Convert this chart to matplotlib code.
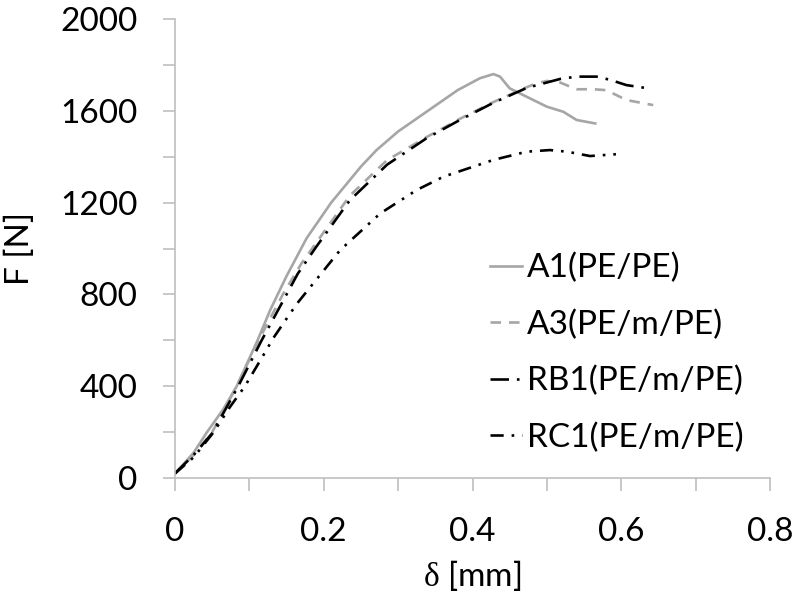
import numpy as np
import matplotlib
matplotlib.use('Agg')
import matplotlib.pyplot as plt

# curves (delta in mm, F in N)
a1_x = [0, 0.025, 0.043, 0.065, 0.083, 0.111, 0.128, 0.150, 0.177, 0.21, 0.25, 0.271,
        0.30, 0.34, 0.38, 0.41, 0.428, 0.437, 0.45, 0.473, 0.50, 0.522, 0.54, 0.565]
a1_f = [20, 110, 200, 300, 400, 600, 732, 880, 1045, 1200, 1357, 1429,
        1510, 1600, 1690, 1742, 1760, 1749, 1698, 1661, 1618, 1596, 1560, 1545]

a3_x = [0, 0.025, 0.05, 0.083, 0.114, 0.145, 0.17, 0.202, 0.235, 0.285, 0.338,
        0.383, 0.428, 0.473, 0.486, 0.5, 0.518, 0.54, 0.5625, 0.58, 0.607, 0.643]
a3_f = [20, 100, 200, 400, 610, 800, 935, 1080, 1230, 1385, 1485,
        1565, 1638, 1703, 1720, 1730, 1723, 1694, 1694, 1690, 1647, 1625]

rb1_x = [0, 0.025, 0.05, 0.085, 0.1165, 0.146, 0.165, 0.19, 0.235, 0.285, 0.338,
         0.383, 0.428, 0.473, 0.518, 0.54, 0.567, 0.585, 0.607, 0.636]
rb1_f = [20, 100, 195, 400, 600, 776, 890, 1008, 1210, 1365, 1480,
         1560, 1635, 1700, 1739, 1749, 1749, 1735, 1712, 1698]

rc1_x = [0, 0.025, 0.052, 0.074, 0.094, 0.123, 0.132, 0.155, 0.166, 0.222, 0.276,
         0.325, 0.361, 0.428, 0.473, 0.504, 0.527, 0.558, 0.598]
rc1_f = [20, 90, 200, 310, 400, 558, 609, 718, 768, 993, 1153,
         1255, 1313, 1386, 1422, 1429, 1422, 1403, 1412]

labels = ['A1(PE/PE)', 'A3(PE/m/PE)', 'RB1(PE/m/PE)', 'RC1(PE/m/PE)']

plt.rcParams['font.family'] = ['Lato', 'DejaVu Sans']
plt.rcParams['mathtext.fontset'] = 'custom'
plt.rcParams['mathtext.rm'] = 'Liberation Serif'

fig = plt.figure(figsize=(8, 6), dpi=100)
ax = fig.add_axes([0.21875, 0.2033, 0.74375, 0.765])

gray = '#a6a6a6'
lw = 1.9
ax.plot(a1_x, a1_f, color=gray, lw=lw, label=labels[0])
ax.plot(a3_x, a3_f, color=gray, lw=lw, dashes=(4, 3), label=labels[1])
ax.plot(rb1_x, rb1_f, color='black', lw=lw, dashes=(7, 3, 1, 3), label=labels[2])
ax.plot(rc1_x, rc1_f, color='black', lw=lw, dashes=(5, 3, 1, 3, 1, 3), label=labels[3])

ax.set_xlim(0, 0.8)
ax.set_ylim(0, 2000)
ax.set_xticks(np.arange(0, 0.81, 0.2))
ax.set_xticklabels(['0', '0.2', '0.4', '0.6', '0.8'])
ax.set_xticks(np.arange(0, 0.81, 0.1), minor=True)
ax.set_yticks(np.arange(0, 2001, 400))
ax.set_yticks(np.arange(0, 2001, 200), minor=True)

for s in ['top', 'right']:
    ax.spines[s].set_visible(False)
for s in ['left', 'bottom']:
    ax.spines[s].set_color('#bfbfbf')
    ax.spines[s].set_linewidth(1.2)

ax.tick_params(which='both', color='#bfbfbf', width=1.2, length=9, labelsize=24)
ax.tick_params(axis='x', which='both', pad=19)
ax.tick_params(axis='y', which='both', pad=18)

ax.set_xlabel(r'$\mathrm{\delta}$ [mm]', fontsize=24)
ax.xaxis.set_label_coords(0.5, -0.175)
ax.set_ylabel('F [N]', fontsize=24)
ax.yaxis.set_label_coords(-0.235, 0.5)

ax.legend(loc='upper left', bbox_to_anchor=(0.53, 0.49), frameon=False,
          borderpad=0, borderaxespad=0,
          fontsize=24, handlelength=0.95, handletextpad=0.15, labelspacing=0.78)

fig.savefig('out.png', dpi=100)
